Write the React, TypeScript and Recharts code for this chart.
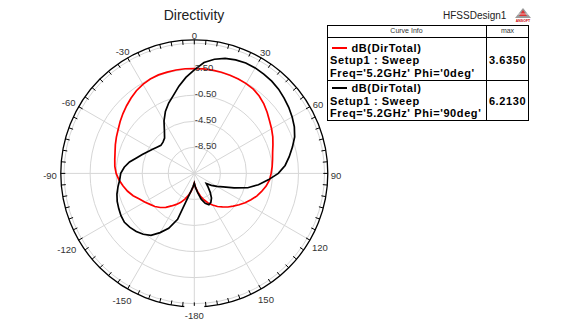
import React from 'react';
import { RadarChart, Radar, PolarGrid, PolarAngleAxis, PolarRadiusAxis } from 'recharts';

const FONT = '"Liberation Sans", Arial, Helvetica, sans-serif';

// Angle categories (deg), clockwise from top
const ANGLES = [
  0, 5, 10, 15, 20, 25, 30, 35, 40, 45, 50, 55, 60, 65, 70, 75, 80, 85,
  90, 95, 100, 105, 110, 115, 120, 125, 130, 135, 140, 145, 150, 155, 160, 165, 170, 175,
  -180, -175, -170, -165, -160, -155, -150, -145, -140, -135, -130, -125, -120, -115, -110, -105, -100, -95,
  -90, -85, -80, -75, -70, -65, -60, -55, -50, -45, -40, -35, -30, -25, -20, -15, -10, -5,
];

// dB(DirTotal), Phi = 0deg
const PHI0 = [
  3.6, 3.6, 3.6, 3.58, 3.55, 3.5, 3.42, 3.3, 3.0, 2.6, 2.1, 1.6, 1.2, 0.8, 0.35, -0.05, -0.3, -0.5,
  -0.7, -0.9, -1.3, -1.8, -2.3, -2.9, -3.5, -4.1, -4.7, -5.2, -5.8, -6.3, -6.9, -7.5, -8.2, -8.9, -9.7, -10.4,
  -11.0, -10.4, -9.7, -9.0, -8.3, -7.6, -7.0, -6.4, -5.7, -5.1, -4.6, -4.2, -3.7, -3.2, -2.5, -1.9, -1.4, -0.9,
  -0.5, -0.25, -0.1, 0.1, 0.4, 0.7, 1.0, 1.4, 1.8, 2.2, 2.6, 3.0, 3.3, 3.5, 3.6, 3.6, 3.62, 3.63,
];

// dB(DirTotal), Phi = 90deg
const PHI90 = [
  3.4, 4.6, 5.3, 5.8, 6.05, 6.2, 6.2, 6.1, 6.0, 5.8, 5.5, 5.2, 4.85, 4.45, 3.9, 3.1, 2.3, 1.5,
  0.4, -1.1, -2.5, -4.0, -6.0, -7.6, -8.5, -9.3, -10.1, -9.5, -8.7, -7.9, -7.4, -7.2, -7.6, -8.4, -9.5, -10.3,
  -11.0, -10.5, -9.8, -8.6, -5.0, -3.2, -2.0, -0.9, -0.3, 0.1, 0.4, 0.6, 0.5, 0.3, 0.1, -0.2, -0.6, -1.0,
  -1.2, -1.7, -2.4, -3.3, -4.0, -4.6, -5.1, -5.5, -5.8, -5.7, -5.4, -4.5, -3.2, -2.0, -1.0, -0.1, 1.1, 2.3,
];

const RADIUS_DOMAIN = [-12.5, 7.5];
const RADIUS_TICKS = [-8.5, -4.5, -0.5, 3.5, 7.5];
const RADIUS_LABELED = [-8.5, -4.5, -0.5, 3.5];
const ANGLE_LABELS = [0, 30, 60, 90, 120, 150, -180, -150, -120, -90, -60, -30];

const SERIES = [
  { key: 'phi0', name: 'dB(DirTotal)', setup: 'Setup1 : Sweep', freq: "Freq='5.2GHz' Phi='0deg'", max: '3.6350', color: '#ff0000' },
  { key: 'phi90', name: 'dB(DirTotal)', setup: 'Setup1 : Sweep', freq: "Freq='5.2GHz' Phi='90deg'", max: '6.2130', color: '#000000' },
];

const data = ANGLES.map((a, i) => ({ angle: a, phi0: PHI0[i], phi90: PHI90[i] }));

const CX = 194.3;
const CY = 173.4;
const R = 133.5;

function AngleTick(props: any) {
  const { payload } = props;
  const v = Number(payload.value);
  const coord = Number(payload.coordinate);
  const rad = (-coord * Math.PI) / 180;
  const c = Math.cos(rad);
  const s = Math.sin(rad);
  const major = ANGLE_LABELS.includes(v);
  const len = 4.5;
  const r0 = v === -180 ? R - 1 : R;
  const x1 = CX + r0 * c;
  const y1 = CY + r0 * s;
  const x2 = CX + (R - len) * c;
  const y2 = CY + (R - len) * s;
  let label: any = null;
  if (major) {
    const txt = String(v);
    const w = txt.length * 5.2;
    const h = 7;
    const rc = R + 3 + (Math.abs(c) * w) / 2 + (Math.abs(s) * h) / 2;
    label = (
      <text
        x={CX + rc * c}
        y={CY + rc * s + 2}
        textAnchor="middle"
        dominantBaseline="central"
        fontSize={9.5}
        fill="#333"
        fontFamily={FONT}
      >
        {txt}
      </text>
    );
  }
  return (
    <g>
      {v === -180 && <rect x={CX - 10} y={CY + R - 2} width={20} height={4} fill="#fff" />}
      <line x1={x1} y1={y1} x2={x2} y2={y2} stroke="#000" strokeWidth={1} />
      {label}
    </g>
  );
}

function RadiusTick(props: any) {
  const { x, y, payload } = props;
  const v = Number(payload.value);
  if (!RADIUS_LABELED.includes(v)) return <g />;
  return (
    <text
      x={x + 0.5}
      y={y - 1.5}
      textAnchor="start"
      dominantBaseline="central"
      fontSize={9.5}
      fill="#333"
      fontFamily={FONT}
    >
      {v.toFixed(2)}
    </text>
  );
}

const abs = (left: number, top: number, extra: any = {}) => ({ position: 'absolute' as const, left, top, ...extra });

export default function App() {
  const polarAngles = ANGLE_LABELS.map((a) => 90 - a);
  const bold = {
    fontFamily: FONT,
    fontWeight: 700,
    fontSize: 11,
    letterSpacing: '0.6px',
    lineHeight: '10px',
    color: '#000',
    whiteSpace: 'nowrap' as const,
  };
  // centers: row1 47.5 / 60 / 72.5, row2 88 / 100.5 / 113 (top = center - 5)
  const rowTops = [
    { line: 47, dB: 42.5, setup: 55, freq: 67.5, max: 55 },
    { line: 87, dB: 83, setup: 95.5, freq: 108, max: 95.5 },
  ];
  return (
    <div style={{ position: 'absolute', left: 0, top: 0, width: 563, height: 320, background: '#fff', overflow: 'hidden' }}>
      <RadarChart
        width={563}
        height={320}
        data={data}
        cx={CX}
        cy={CY}
        outerRadius={R}
        startAngle={90}
        endAngle={-270}
        margin={{ top: 0, right: 0, bottom: 0, left: 0 }}
      >
        <PolarGrid gridType="circle" polarAngles={polarAngles} stroke="#d6d6d6" strokeWidth={1} />
        <PolarRadiusAxis
          angle={90}
          type="number"
          domain={RADIUS_DOMAIN}
          ticks={RADIUS_TICKS}
          axisLine={false}
          tickLine={false}
          tick={<RadiusTick />}
          allowDataOverflow
        />
        <PolarAngleAxis
          dataKey="angle"
          axisLineType="circle"
          axisLine={{ stroke: '#000', strokeWidth: 1.3 }}
          tickLine={false}
          tick={<AngleTick />}
        />
        {SERIES.map((s) => (
          <Radar
            key={s.key}
            name={s.name}
            dataKey={s.key}
            stroke={s.color}
            strokeWidth={1.7}
            fill="none"
            fillOpacity={0}
            dot={false}
            isAnimationActive={false}
          />
        ))}
      </RadarChart>

      <div style={abs(0, 7, { width: 388, textAlign: 'center', fontFamily: FONT, fontSize: 14, lineHeight: '16px', color: '#222' })}>
        Directivity
      </div>
      <div style={abs(443, 10, { fontFamily: FONT, fontSize: 10, lineHeight: '12px', color: '#222' })}>HFSSDesign1</div>
      <svg style={abs(511, 7)} width={24} height={16}>
        <polygon points="12,1 4,11 20,11" fill="#9a9a9a" />
        <polygon points="12,3 8,9 16,9" fill="#d33" />
        <line x1={6} y1={7} x2={18} y2={7} stroke="#fff" strokeWidth={0.6} />
        <text x={12} y={15} textAnchor="middle" fontSize={3.5} fontFamily={FONT} fill="#c00" fontWeight={700}>ANSOFT</text>
      </svg>

      {/* Curve info table */}
      <div style={abs(327, 25, { width: 202, height: 96, border: '1px solid #000', boxSizing: 'border-box', background: '#fff' })} />
      <div style={abs(327, 37, { width: 202, height: 0, borderTop: '1px solid #000' })} />
      <div style={abs(327, 80, { width: 202, height: 0, borderTop: '1px solid #000' })} />
      <div style={abs(486, 25, { width: 0, height: 96, borderLeft: '1px solid #000' })} />
      <div style={abs(327, 27, { width: 159, textAlign: 'center', fontFamily: FONT, fontSize: 7, lineHeight: '8px', color: '#333' })}>Curve Info</div>
      <div style={abs(486, 27, { width: 43, textAlign: 'center', fontFamily: FONT, fontSize: 7, lineHeight: '8px', color: '#333' })}>max</div>
      {SERIES.map((s, i) => {
        const t = rowTops[i];
        return (
          <React.Fragment key={s.key}>
            <div style={abs(332, t.line, { width: 15, height: 2, background: s.color })} />
            <div style={{ ...abs(351.5, t.dB), ...bold }}>{s.name}</div>
            <div style={{ ...abs(330, t.setup), ...bold }}>{s.setup}</div>
            <div style={{ ...abs(330, t.freq), ...bold }}>{s.freq}</div>
            <div style={{ ...abs(486, t.max, { width: 43, textAlign: 'center' }), ...bold }}>{s.max}</div>
          </React.Fragment>
        );
      })}
    </div>
  );
}
